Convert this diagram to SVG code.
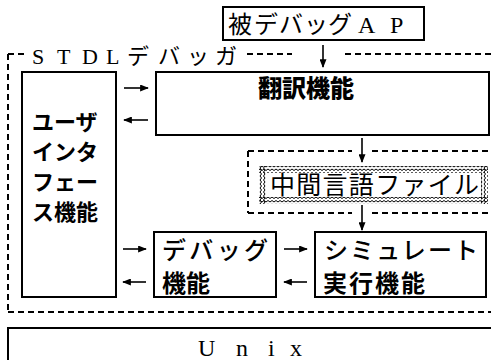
<svg xmlns="http://www.w3.org/2000/svg" width="491" height="360" viewBox="0 0 491 360">
<style>
.box{fill:#fff;stroke:#000;stroke-width:2}
.dash{fill:none;stroke:#000;stroke-width:2;stroke-dasharray:6 4}
.jp{font-family:"Noto Sans CJK JP",sans-serif;fill:#000}
.sr{font-family:"Liberation Serif","Noto Sans CJK JP",serif;fill:#000}
.con{fill:none;stroke:#000;stroke-width:1.6}
</style>
<defs>
<marker id="ah" viewBox="0 0 10 8" refX="9" refY="4" markerWidth="9" markerHeight="7" markerUnits="userSpaceOnUse" orient="auto">
<path d="M0,0 L10,4 L0,8 Z" fill="#000"/>
</marker>
<pattern id="waveH" width="4" height="7" patternUnits="userSpaceOnUse">
<path d="M0,1 L2,2.5 L4,1 M0,4.5 L2,6 L4,4.5" fill="none" stroke="#000" stroke-width="1"/>
</pattern>
<pattern id="waveV" width="7" height="4" patternUnits="userSpaceOnUse">
<path d="M1,0 L2.5,2 L1,4 M4.5,0 L6,2 L4.5,4" fill="none" stroke="#000" stroke-width="1"/>
</pattern>
</defs>
<rect width="491" height="360" fill="#fff"/>

<g id="frame">
<path class="dash" d="M8,54 H26 M247,54 H292 M345,54 H491 M8,54 V312 M8,312 H491"/>
<text class="sr" font-size="22" x="32 57 82 106 127 158 187 215" y="64">STDLデバッガ</text>
</g>

<g id="ap">
<rect class="box" x="223" y="7" width="201" height="33"/>
<text class="sr" font-size="24" x="228 254 279 304 328 358 390" y="33">被デバッグAP</text>
</g>

<g id="ui">
<rect class="box" x="22" y="72" width="94" height="225"/>
<text class="jp" font-size="22" font-weight="bold" x="32" y="130">ユーザ</text>
<text class="jp" font-size="22" font-weight="bold" x="32" y="160">インタ</text>
<text class="jp" font-size="22" font-weight="bold" x="32" y="190">フェー</text>
<text class="jp" font-size="22" font-weight="bold" x="32" y="220">ス機能</text>
</g>

<g id="honyaku">
<rect class="box" x="156" y="72" width="333" height="63"/>
<text class="jp" font-size="24" font-weight="900" x="258" y="97">翻訳機能</text>
</g>

<g id="file">
<path class="dash" d="M248,151 H352 M372,151 H491 M248,151 V213 M248,213 H352 M372,213 H491"/>
<rect x="259" y="166" width="229" height="38" fill="#fff"/>
<rect x="259" y="166" width="229" height="7" fill="url(#waveH)"/>
<rect x="259" y="197" width="229" height="7" fill="url(#waveH)"/>
<rect x="259" y="166" width="7" height="38" fill="url(#waveV)"/>
<rect x="481" y="166" width="7" height="38" fill="url(#waveV)"/>
<text class="jp" font-size="25" x="270" y="194" textLength="209">中間言語ファイル</text>
</g>

<g id="debug">
<rect class="box" x="154" y="232" width="122" height="65"/>
<text class="jp" font-size="24" font-weight="500" x="162" y="259" textLength="106">デバッグ</text>
<text class="jp" font-size="24" font-weight="bold" x="162" y="292">機能</text>
</g>

<g id="sim">
<rect class="box" x="315" y="232" width="171" height="65"/>
<text class="jp" font-size="24" font-weight="500" x="324" y="259" textLength="154">シミュレート</text>
<text class="jp" font-size="24" font-weight="bold" x="323" y="292" textLength="102">実行機能</text>
</g>

<g id="unix">
<rect class="box" x="8" y="328" width="490" height="40"/>
<text class="sr" font-size="24" x="198 236 268 290" y="356">Unix</text>
</g>

<g id="connectors">
<path class="con" d="M323,45 V67" marker-end="url(#ah)"/>
<path class="con" d="M362,138 V162" marker-end="url(#ah)"/>
<path class="con" d="M362,205 V230" marker-end="url(#ah)"/>
<path class="con" d="M124,88 H148" marker-end="url(#ah)"/>
<path class="con" d="M148,120 H124" marker-end="url(#ah)"/>
<path class="con" d="M123,249 H146" marker-end="url(#ah)"/>
<path class="con" d="M146,282 H123" marker-end="url(#ah)"/>
<path class="con" d="M284,249 H307" marker-end="url(#ah)"/>
<path class="con" d="M307,282 H284" marker-end="url(#ah)"/>
</g>
</svg>
